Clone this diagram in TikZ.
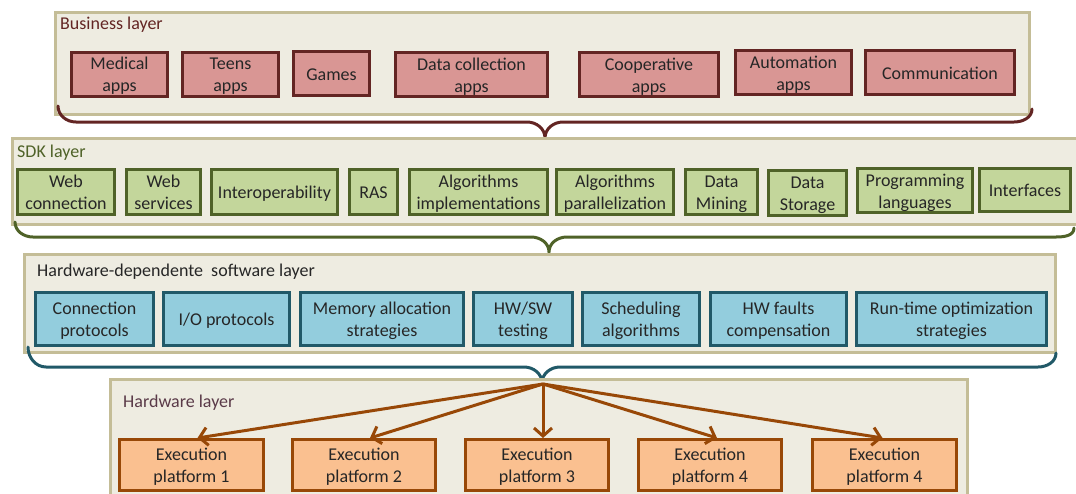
\documentclass[tikz,border=0pt]{standalone}
\usepackage{fontspec}
\setmainfont{Carlito}
\usetikzlibrary{arrows.meta}

\definecolor{framefill}{HTML}{EEECE1}
\definecolor{framedraw}{HTML}{C4BD97}
\definecolor{bizfill}{HTML}{D99694}
\definecolor{bizdraw}{HTML}{632523}
\definecolor{sdkfill}{HTML}{C3D69B}
\definecolor{sdkdraw}{HTML}{4F6228}
\definecolor{hdsfill}{HTML}{93CDDD}
\definecolor{hdsdraw}{HTML}{215968}
\definecolor{hwfill}{HTML}{FAC090}
\definecolor{hwdraw}{HTML}{984807}
\definecolor{txt}{HTML}{262626}
\definecolor{hwlabel}{HTML}{5A3A48}

\tikzset{
  layerframe/.style={draw=framedraw, fill=framefill, line width=3pt},
  layerlabel/.style={anchor=west, inner sep=0pt},
  appbox/.style={draw=#1draw, fill=#1fill, line width=3pt, inner sep=0pt,
    align=center, text=txt},
  bracepath/.style={draw=#1, line width=3pt, line cap=round},
  feed/.style={draw=hwdraw, line width=3pt,
    -{Straight Barb[length=8pt,width=18pt]}},
}

% \lbox{layer}{name}{left}{right}{top}{bottom}{text}
% the text is set a little below the box centre
\newcommand\lbox[7]{%
  \node[appbox=#1, minimum width={#4-#3-3}, minimum height={#6-#5-3}]
    (#2) at ({(#3+#4)/2},{(#5+#6)/2})
    {\raisebox{-2.5pt}[\height][\depth]{\begin{tabular}{@{}c@{}}#7\end{tabular}}};}

% \layerbrace{colour}{left x}{left y}{bar y}{tip x}{tip y}{right x}{right y}
\newcommand\layerbrace[8]{%
  \draw[bracepath=#1] (#2,#3) to[out=-90,in=180] ({#2+18},#4)
    -- ({#5-18},#4) to[out=0,in=90] (#5,#6)
    to[out=90,in=180] ({#5+18},#4) -- ({#7-18},#4)
    to[out=0,in=-90] (#7,#8);}

\begin{document}
\begin{tikzpicture}[x=1pt,y=-1pt,
  every node/.append style={font=\fontsize{18}{22}\selectfont}]
\renewcommand\arraystretch{1}
\setlength\tabcolsep{0pt}
\useasboundingbox (0,0) rectangle (1076,493);
\clip (0,0) rectangle (1076,493);

% Business layer
\draw[layerframe] (55,12) rectangle (1029,114);
\node[layerlabel, text=bizdraw] (bizlabel) at (60,25) {Business layer};
\lbox{biz}{med}{70}{169}{51}{97}{Medical\\apps}
\lbox{biz}{teens}{181}{280}{51}{97}{Teens\\apps}
\lbox{biz}{games}{292}{371}{50}{97}{Games}
\lbox{biz}{datacol}{394}{549}{51}{98}{Data collection\\apps}
\lbox{biz}{coop}{578}{720}{51}{98}{Cooperative\\apps}
\lbox{biz}{auto}{734}{853}{49}{96}{Automation\\apps}
\lbox{biz}{comm}{864}{1016}{49}{96}{Communication}
\layerbrace{bizdraw}{58}{106}{122}{545}{138}{1032}{109}

% SDK layer
\draw[layerframe] (12,138) rectangle (1090,224);
\node[layerlabel, text=sdkdraw] (sdklabel) at (17,153) {SDK layer};
\lbox{sdk}{webconn}{16}{116}{168}{216}{Web\\connection}
\lbox{sdk}{websvc}{125}{202}{168}{216}{Web\\services}
\lbox{sdk}{interop}{210}{339}{168}{216}{Interoperability}
\lbox{sdk}{ras}{348}{399}{168}{216}{RAS}
\lbox{sdk}{algimpl}{408}{549}{168}{216}{Algorithms\\implementations}
\lbox{sdk}{algpar}{555}{675}{168}{216}{Algorithms\\parallelization}
\lbox{sdk}{mining}{684}{759}{168}{216}{Data\\Mining}
\lbox{sdk}{storage}{767}{848}{169}{217}{Data\\Storage}
\lbox{sdk}{prog}{856}{974}{167}{214}{Programming\\languages}
\lbox{sdk}{intf}{978}{1072}{167}{213}{Interfaces}
\layerbrace{sdkdraw}{15}{222}{237}{549}{252}{1074}{228}

% Hardware-dependent software layer
\draw[layerframe] (24,254) rectangle (1055,352);
\node[layerlabel, text=txt] (hdslabel) at (37,272) {Hardware-dependente\ \ software layer};
\lbox{hds}{connprot}{34}{155}{291}{347}{Connection\\protocols}
\lbox{hds}{io}{162}{291}{291}{347}{I/O protocols}
\lbox{hds}{mem}{299}{465}{291}{347}{Memory allocation\\strategies}
\lbox{hds}{hwsw}{472}{574}{291}{347}{HW/SW\\testing}
\lbox{hds}{sched}{581}{701}{291}{347}{Scheduling\\algorithms}
\lbox{hds}{faults}{709}{848}{291}{347}{HW faults\\compensation}
\lbox{hds}{runtime}{855}{1048}{291}{347}{Run-time optimization\\strategies}
\layerbrace{hdsdraw}{28}{347}{367}{542}{383}{1056}{353}

% Hardware layer
\draw[layerframe] (110,379) rectangle (967,520);
\node[layerlabel, text=hwlabel] (hwlabeltxt) at (123,403) {Hardware layer};
\lbox{hw}{ep1}{118}{265}{438}{492}{Execution\\platform 1}
\lbox{hw}{ep2}{291}{437}{438}{492}{Execution\\platform 2}
\lbox{hw}{ep3}{464}{610}{438}{492}{Execution\\platform 3}
\lbox{hw}{ep4}{637}{783}{438}{492}{Execution\\platform 4}
\lbox{hw}{ep5}{811}{958}{438}{492}{Execution\\platform 4}

% Dispatch from the software stack to the execution platforms
\coordinate (hub) at (543,384);
\draw[feed] (hub) -- ([xshift=6pt]ep1.north);
\draw[feed] (hub) -- ([xshift=6pt]ep2.north);
\draw[feed] (hub) -- ([xshift=6pt]ep3.north);
\draw[feed] (hub) -- ([xshift=7pt]ep4.north);
\draw[feed] (hub) -- ([xshift=-2pt]ep5.north);
\end{tikzpicture}
\end{document}
